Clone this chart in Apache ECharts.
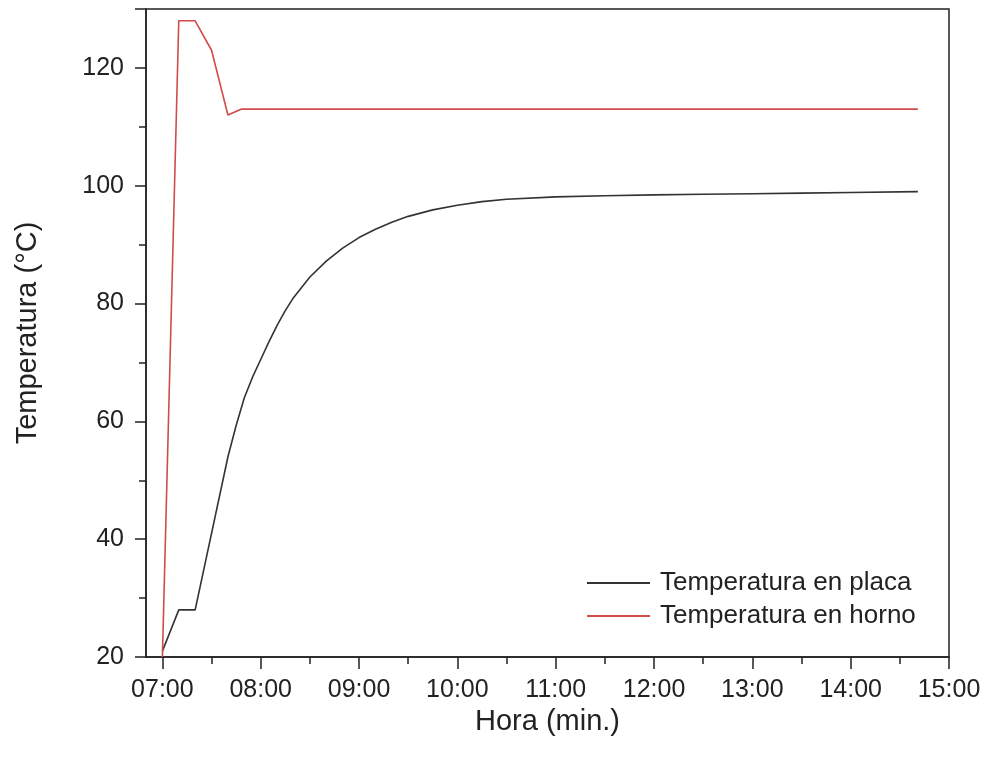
<!DOCTYPE html>
<html>
<head>
<meta charset="utf-8">
<script src="https://cdn.jsdelivr.net/npm/echarts@6/dist/echarts.min.js"></script>
<style>
  html, body { margin: 0; padding: 0; background: #fff; }
  #chart { width: 987px; height: 761px; }
</style>
</head>
<body>
<div id="chart"></div>
<script>
// minutos desde las 00:00
const placaMin = [420, 430, 440, 460, 465, 470, 475, 480, 485, 490, 495, 500, 510, 520, 530, 540, 550, 560, 570, 585, 600, 615, 630, 660, 690, 720, 750, 780, 810, 840, 881];
const placaTemp = [21, 28, 28, 54, 59.3, 64, 67.5, 70.5, 73.5, 76.3, 78.8, 81, 84.5, 87.2, 89.4, 91.2, 92.6, 93.8, 94.8, 95.9, 96.7, 97.3, 97.7, 98.1, 98.3, 98.45, 98.55, 98.65, 98.75, 98.85, 99];

const hornoMin = [420, 430, 440, 450, 460, 468, 881];
const hornoTemp = [20, 128, 128, 123, 112, 113, 113];

const xRange = [410, 900];
const xMajor = [420, 480, 540, 600, 660, 720, 780, 840, 900];
const xMinor = [450, 510, 570, 630, 690, 750, 810, 870];
const yTicks = { min: 20, max: 130, interval: 20 };

function fmtHora(v) {
  const h = Math.floor(v / 60);
  const m = v % 60;
  return String(h).padStart(2, "0") + ":" + String(m).padStart(2, "0");
}

const font = "Liberation Sans, Arial, sans-serif";
const axisColor = "#222";
const chart = echarts.init(document.getElementById("chart"));

const options = {
  animation: false,
  textStyle: { fontFamily: font },
  grid: {
    left: 146,
    right: 38,
    top: 9,
    bottom: 104,
    show: true,
    borderColor: axisColor,
    borderWidth: 1.5,
  },
  legend: {
    orient: "vertical",
    left: 582,
    top: 565,
    itemWidth: 63,
    itemHeight: 2,
    itemGap: 7,
    icon: "rect",
    textStyle: { fontSize: 26, color: axisColor, fontFamily: font, padding: [0, 0, 0, 5] },
    data: ["Temperatura en placa", "Temperatura en horno"],
  },
  xAxis: [
    {
      type: "value",
      min: xRange[0],
      max: xRange[1],
      name: "Hora (min.)",
      nameLocation: "middle",
      nameGap: 37,
      nameTextStyle: { fontSize: 29, color: axisColor, fontFamily: font },
      splitLine: { show: false },
      axisLine: { lineStyle: { color: axisColor, width: 1.5 } },
      axisTick: { length: 12, customValues: xMajor, lineStyle: { color: axisColor, width: 1.5 } },
      axisLabel: { fontSize: 25, color: axisColor, margin: 21, customValues: xMajor, formatter: fmtHora },
    },
    {
      // medias horas
      type: "value",
      position: "bottom",
      min: xRange[0],
      max: xRange[1],
      splitLine: { show: false },
      axisLine: { show: false },
      axisTick: { length: 7, customValues: xMinor, lineStyle: { color: axisColor, width: 1.5 } },
      axisLabel: { show: false },
    },
  ],
  yAxis: {
    type: "value",
    min: yTicks.min,
    max: yTicks.max,
    interval: yTicks.interval,
    name: "Temperatura (°C)",
    nameLocation: "middle",
    nameGap: 104,
    nameTextStyle: { fontSize: 29, color: axisColor, fontFamily: font },
    splitLine: { show: false },
    axisLine: { lineStyle: { color: axisColor, width: 1.5 } },
    axisTick: { length: 11, lineStyle: { color: axisColor, width: 1.5 } },
    minorTick: { show: true, splitNumber: 2, length: 7, lineStyle: { color: axisColor, width: 1.5 } },
    axisLabel: { fontSize: 25, color: axisColor, margin: 22, showMaxLabel: false },
  },
  series: [
    {
      name: "Temperatura en placa",
      type: "line",
      showSymbol: false,
      data: placaMin.map((m, i) => [m, placaTemp[i]]),
      lineStyle: { color: "#333", width: 1.6 },
      itemStyle: { color: "#333" },
    },
    {
      name: "Temperatura en horno",
      type: "line",
      showSymbol: false,
      data: hornoMin.map((m, i) => [m, hornoTemp[i]]),
      lineStyle: { color: "#d24b4b", width: 1.6 },
      itemStyle: { color: "#d24b4b" },
    },
  ],
};

chart.setOption(options);
</script>
</body>
</html>
